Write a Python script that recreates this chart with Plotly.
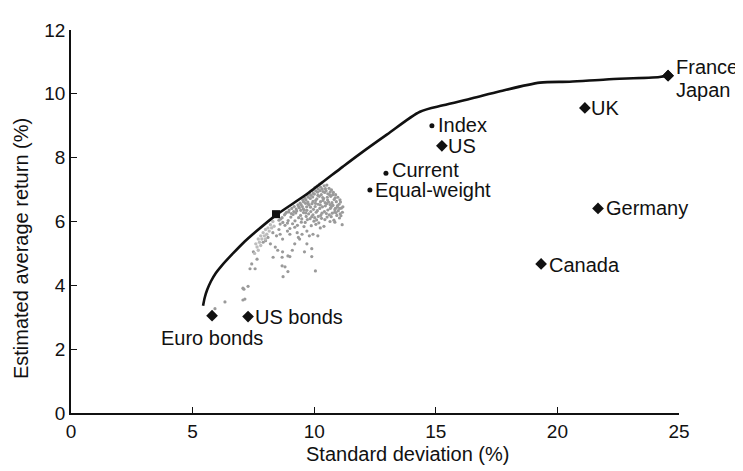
import plotly.graph_objects as go

# Efficient frontier (std dev %, return %)
frontier_sd = [5.43, 5.5, 5.6, 5.75, 5.95, 6.2, 6.66, 7.07, 7.63, 8.43, 9.7, 11.18, 11.88, 13.0, 14.35, 15.3, 16.5, 17.64, 19.28, 20.5, 22.0, 24.2, 24.55]
frontier_ret = [3.36, 3.62, 3.86, 4.12, 4.38, 4.62, 5.0, 5.32, 5.7, 6.2, 6.86, 7.72, 8.12, 8.73, 9.44, 9.64, 9.86, 10.08, 10.35, 10.38, 10.45, 10.53, 10.57]

# Individual assets (diamonds)
asset_names = ["France", "UK", "Germany", "Canada", "US", "Euro bonds", "US bonds"]
asset_sd = [24.55, 21.13, 21.67, 19.33, 15.25, 5.8, 7.28]
asset_ret = [10.57, 9.56, 6.41, 4.67, 8.37, 3.05, 3.02]
# Japan shares France's point
japan_sd = [24.55]
japan_ret = [10.57]

# Portfolios (dots)
port_names = ["Index", "Current", "Equal-weight"]
port_sd = [14.84, 12.95, 12.29]
port_ret = [9.0, 7.51, 6.99]

# Highlighted frontier portfolio (square)
sq_sd = [8.43]
sq_ret = [6.23]

# Simulated portfolio cloud (grey dots)
cloud_pts = [
    (8.62, 6.08), (8.71, 5.97), (8.78, 6.21), (8.86, 6.29), (8.93, 6.03), (8.97, 6.36), (9.04, 6.14),
    (9.08, 6.41), (9.13, 6.22), (9.11, 5.93), (9.18, 6.47), (9.24, 6.27), (9.21, 6.02), (9.33, 6.52),
    (9.28, 6.33), (9.36, 6.12), (9.31, 5.88), (9.42, 6.58), (9.39, 6.43), (9.44, 6.19), (9.47, 5.98),
    (9.53, 6.67), (9.51, 6.47), (9.56, 6.28), (9.49, 6.08), (9.58, 5.84), (9.62, 6.73), (9.64, 6.57),
    (9.59, 6.36), (9.67, 6.16), (9.63, 5.97), (9.71, 6.82), (9.74, 6.61), (9.69, 6.46), (9.77, 6.24),
    (9.72, 6.06), (9.81, 6.88), (9.84, 6.72), (9.79, 6.52), (9.86, 6.31), (9.83, 6.09), (9.88, 5.87),
    (9.92, 6.97), (9.94, 6.77), (9.91, 6.56), (9.97, 6.38), (9.95, 6.21), (9.99, 6.01), (10.03, 7.06),
    (10.01, 6.86), (10.06, 6.66), (10.04, 6.47), (10.08, 6.29), (10.02, 6.12), (10.07, 5.91),
    (10.12, 7.11), (10.14, 6.92), (10.11, 6.71), (10.16, 6.54), (10.13, 6.34), (10.17, 6.16),
    (10.22, 7.17), (10.24, 6.97), (10.21, 6.79), (10.26, 6.62), (10.23, 6.41), (10.27, 6.19),
    (10.19, 5.96), (10.31, 7.21), (10.33, 7.02), (10.29, 6.84), (10.36, 6.66), (10.34, 6.46),
    (10.32, 6.26), (10.41, 7.12), (10.43, 6.91), (10.39, 6.72), (10.46, 6.49), (10.42, 6.31),
    (10.44, 6.06), (10.52, 7.14), (10.49, 6.96), (10.54, 6.76), (10.51, 6.56), (10.56, 6.36),
    (10.53, 6.14), (10.61, 7.04), (10.63, 6.84), (10.59, 6.61), (10.66, 6.41), (10.62, 6.21),
    (10.71, 6.99), (10.68, 6.79), (10.73, 6.59), (10.69, 6.44), (10.74, 6.26), (10.79, 6.91),
    (10.82, 6.69), (10.77, 6.51), (10.84, 6.29), (10.81, 6.04), (10.88, 6.84), (10.91, 6.62),
    (10.87, 6.41), (10.93, 6.19), (10.97, 6.76), (11.02, 6.54), (10.99, 6.34), (11.04, 6.11),
    (11.08, 6.61), (11.12, 6.42), (11.07, 6.24), (11.18, 6.46), (11.16, 6.29),
    (9.26, 6.39), (9.46, 6.53), (9.66, 6.67), (9.86, 6.82), (10.06, 6.96), (10.26, 7.08), (10.46, 7.03),
    (10.66, 6.93), (10.86, 6.74), (11.06, 6.68), (9.16, 6.31), (9.36, 6.47), (9.56, 6.62), (9.76, 6.76),
    (9.96, 6.88), (10.16, 7.02), (10.36, 6.94), (10.56, 6.87), (10.76, 6.84), (10.96, 6.5),
    (9.55, 6.4), (9.75, 6.55), (9.95, 6.63), (10.15, 6.82), (10.35, 6.75), (10.55, 6.67), (10.75, 6.5),
    (10.95, 6.45), (9.45, 6.35), (9.65, 6.27), (9.85, 6.45), (10.05, 6.57), (10.25, 6.52), (10.45, 6.59),
    (10.65, 6.53), (10.85, 6.37), (11.05, 6.41), (10.1, 6.05), (10.3, 6.1), (10.5, 6.25), (10.7, 6.15),
    (10.9, 6.28), (11.1, 6.18), (9.9, 6.15), (9.7, 6.35),
    (8.55, 6.04), (8.68, 6.12), (8.82, 6.25), (8.95, 6.3), (9.06, 6.25), (8.9, 5.95), (9.0, 5.78),
    (8.8, 5.88), (8.6, 5.92), (9.2, 5.82),
    (8.1, 5.5), (8.3, 5.65), (8.6, 5.6), (8.7, 5.45), (8.4, 5.2), (8.5, 5.1), (8.7, 5.05), (9.1, 5.1),
    (9.0, 4.9), (7.5, 5.05), (7.9, 5.35), (9.3, 5.65), (9.35, 5.5), (9.2, 5.3), (9.7, 5.3), (9.6, 5.05),
    (9.9, 5.15), (9.95, 5.6), (10.15, 5.55), (10.25, 5.8), (10.65, 6.0), (10.85, 5.98), (11.15, 5.9),
    (9.9, 4.9), (10.05, 4.45), (9.0, 5.6), (8.9, 5.7), (9.5, 5.6), (9.7, 5.7), (10.4, 5.85),
    (7.43, 4.67), (7.36, 4.52), (7.57, 4.52), (7.65, 4.82), (8.31, 4.88), (8.68, 4.88), (8.92, 4.92),
    (8.68, 4.61), (8.8, 4.58), (8.92, 4.43), (8.72, 4.27), (7.28, 3.97), (7.07, 3.91), (7.07, 3.54),
    (6.33, 3.48), (5.92, 3.27), (7.15, 3.57), (7.11, 3.88), (8.0, 5.4), (8.2, 5.3), (8.45, 5.55),
    (8.55, 5.75), (9.4, 5.45), (9.8, 5.55),
]
cloud_sd = [p[0] for p in cloud_pts]
cloud_ret = [p[1] for p in cloud_pts]

# Light grey strip just under the frontier
strip_sd = [7.6, 7.7, 7.75, 7.8, 7.85, 7.9, 7.95, 8.0, 8.05, 8.1, 8.15, 8.2, 8.25, 8.3, 8.35, 7.65, 7.7, 7.55, 7.8, 8.0]
strip_ret = [5.3, 5.45, 5.35, 5.55, 5.45, 5.65, 5.55, 5.75, 5.6, 5.8, 5.7, 5.9, 5.8, 6.0, 5.85, 5.2, 5.1, 5.0, 5.25, 5.45]

FONT = "Liberation Sans, Arial, Helvetica, sans-serif"
INK = "#111111"

fig = go.Figure()
fig.add_trace(go.Scatter(x=cloud_sd, y=cloud_ret, mode="markers",
                         marker=dict(size=3.2, color="#9a9a9a"), hoverinfo="skip"))
fig.add_trace(go.Scatter(x=strip_sd, y=strip_ret, mode="markers",
                         marker=dict(size=3.4, color="#bdbdbd"), hoverinfo="skip"))
fig.add_trace(go.Scatter(x=frontier_sd, y=frontier_ret, mode="lines",
                         line=dict(color=INK, width=2.6, shape="spline", smoothing=0.8)))
fig.add_trace(go.Scatter(x=asset_sd + japan_sd, y=asset_ret + japan_ret, mode="markers",
                         marker=dict(symbol="diamond", size=9, color=INK)))
fig.add_trace(go.Scatter(x=port_sd, y=port_ret, mode="markers",
                         marker=dict(symbol="circle", size=5, color=INK)))
fig.add_trace(go.Scatter(x=sq_sd, y=sq_ret, mode="markers",
                         marker=dict(symbol="square", size=8, color=INK)))

lab_font = dict(family=FONT, size=20, color=INK)
label_shift = {"France": (6, 9), "UK": (4, 0), "Germany": (6, 0), "Canada": (6, -1),
               "US": (4, 0), "US bonds": (5, 0), "Index": (4, 1), "Current": (4, 3),
               "Equal-weight": (3, 0)}
ann = []
for name, x, y in zip(asset_names, asset_sd, asset_ret):
    if name == "Euro bonds":
        ann.append(dict(x=x, y=y, text=name, showarrow=False, xanchor="center",
                        yanchor="top", yshift=-9, font=lab_font))
    else:
        dx, dy = label_shift[name]
        ann.append(dict(x=x, y=y, text=name, showarrow=False, xanchor="left",
                        yanchor="middle", xshift=dx, yshift=dy, font=lab_font))
ann.append(dict(x=japan_sd[0], y=japan_ret[0], text="Japan", showarrow=False,
                xanchor="left", yanchor="middle", xshift=6, yshift=-14, font=lab_font))
for name, x, y in zip(port_names, port_sd, port_ret):
    dx, dy = label_shift[name]
    ann.append(dict(x=x, y=y, text=name, showarrow=False, xanchor="left",
                    yanchor="middle", xshift=dx, yshift=dy, font=lab_font))

ann.append(dict(xref="paper", yref="paper", x=0.553, y=-0.107, yanchor="middle",
                text="Standard deviation (%)", showarrow=False,
                font=dict(family=FONT, size=20, color=INK)))
ann.append(dict(xref="paper", yref="paper", x=-0.081, y=0.43, textangle=-90,
                xanchor="center", yanchor="middle",
                text="Estimated average return (%)", showarrow=False,
                font=dict(family=FONT, size=20, color=INK)))

fig.update_layout(
    width=743, height=471,
    margin=dict(l=63, r=72, t=12, b=66),
    paper_bgcolor="white", plot_bgcolor="white",
    showlegend=False,
    annotations=ann,
    font=dict(family=FONT, size=19, color=INK),
)
fig.update_xaxes(range=[0, 25], tickvals=[0, 5, 10, 15, 20, 25], showgrid=False,
                 zeroline=False, showline=True, linecolor=INK, linewidth=1.5,
                 ticks="inside", ticklen=6, tickwidth=1.3, tickcolor=INK,
                 tickfont=dict(family=FONT, size=19, color=INK))
fig.update_yaxes(range=[0, 12], tickvals=[0, 2, 4, 6, 8, 10, 12], showgrid=False,
                 zeroline=False, showline=True, linecolor=INK, linewidth=1.5,
                 ticks="inside", ticklen=6, tickwidth=1.3, tickcolor=INK,
                 tickfont=dict(family=FONT, size=19, color=INK))

fig.write_html("out.html")
